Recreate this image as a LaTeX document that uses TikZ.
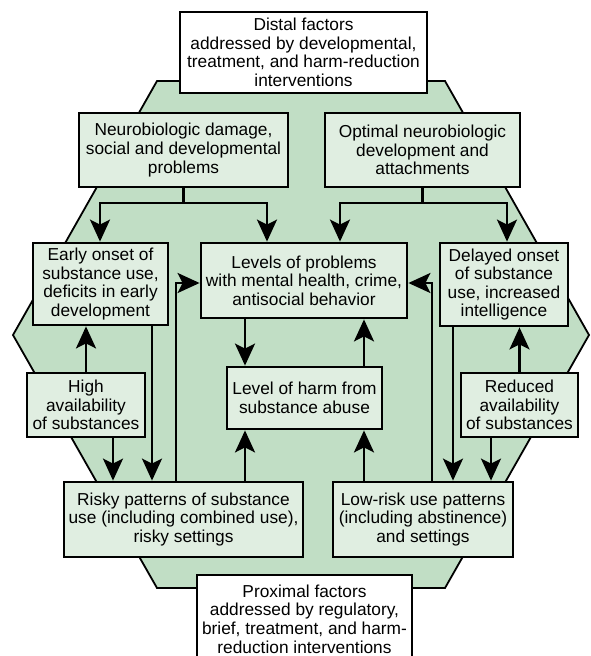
\documentclass[tikz,border=0pt]{standalone}
\usepackage{fontspec}
\setmainfont{Liberation Sans}
\usetikzlibrary{arrows.meta}
\definecolor{hexgreen}{HTML}{C1DEC5}
\definecolor{boxgreen}{HTML}{E0EEE1}
\tikzset{
  box/.style={draw=black, line width=2.8pt, fill=boxgreen, align=center, inner sep=0pt,
    font=\fontsize{17.3}{18.6}\selectfont},
  wbox/.style={box, fill=white},
  arr/.style={line width=2.5pt, -{Stealth[length=22pt, width=20pt, inset=5pt]}},
  ln/.style={line width=2.5pt},
}
\begin{document}
\begin{tikzpicture}[x=1pt, y=-1pt]
\useasboundingbox (0,0) rectangle (591,656);
% hexagon
\draw[fill=hexgreen, line width=1.8pt] (157,81) -- (445,81) -- (589,335) -- (445,588) -- (157,588) -- (13,335) -- cycle;

% nodes
\node[wbox, minimum width=247pt, minimum height=81pt] (distal) at (303.5,52.5)
  {Distal factors\\addressed by developmental,\\treatment, and harm-reduction\\interventions};
\node[box, minimum width=209pt, minimum height=74pt] (neuro) at (183.5,150)
  {Neurobiologic damage,\\social and developmental\\problems};
\node[box, minimum width=195pt, minimum height=74pt] (optimal) at (422.5,150)
  {Optimal neurobiologic\\development and\\attachments};
\node[box, minimum width=135pt, minimum height=82pt] (early) at (100.5,284)
  {Early onset of\\substance use,\\deficits in early\\development};
\node[box, minimum width=206pt, minimum height=75pt] (levels) at (304,280.5)
  {Levels of problems\\with mental health, crime,\\antisocial behavior};
\node[box, minimum width=128pt, minimum height=83pt] (delayed) at (504,284.5)
  {Delayed onset\\of substance\\use, increased\\intelligence};
\node[box, minimum width=118pt, minimum height=64pt] (high) at (86,405)
  {High\\availability\\of substances};
\node[box, minimum width=155pt, minimum height=62pt] (harm) at (304.5,398)
  {Level of harm from\\substance abuse};
\node[box, minimum width=117pt, minimum height=64pt] (reduced) at (519.5,405)
  {Reduced\\availability\\of substances};
\node[box, minimum width=239pt, minimum height=75pt] (risky) at (183.5,519.5)
  {Risky patterns of substance\\use (including combined use),\\risky settings};
\node[box, minimum width=180pt, minimum height=75pt] (lowrisk) at (423,519.5)
  {Low-risk use patterns\\(including abstinence)\\and settings};
\node[wbox, minimum width=215pt, minimum height=88pt] (proximal) at (304.5,619)
  {Proximal factors\\addressed by regulatory,\\brief, treatment, and harm-\\reduction interventions};

% connectors from top boxes
\coordinate (jn) at (183.5,203);
\draw[ln] (neuro.south) -- (jn);
\draw[arr] (jn) -| ([xshift=-0.5pt]early.north);
\draw[arr] (jn) -| ([xshift=-37pt]levels.north);
\coordinate (jo) at (422.5,203);
\draw[ln] (optimal.south) -- (jo);
\draw[arr] (jo) -| ([xshift=36pt]levels.north);
\draw[arr] (jo) -| ([xshift=3pt]delayed.north);

% left column
\draw[arr] ([xshift=51.5pt]early.south) coordinate (e1) -- (e1 |- risky.north);
\draw[arr] (high.north) -- (high.north |- early.south);
\draw[arr] ([xshift=27pt]high.south) coordinate (h1) -- (h1 |- risky.north);
\draw[arr] ([xshift=-7.5pt]risky.north) |- ([yshift=-2.5pt]levels.west);

% middle column
\draw[arr] ([xshift=-59pt]levels.south) coordinate (l1) -- (l1 |- harm.north);
\draw[arr] ([xshift=61.5pt]risky.north) coordinate (r1) -- (r1 |- harm.south);
\draw[arr] ([xshift=-59pt]lowrisk.north) coordinate (w1) -- (w1 |- harm.south);
\draw[arr] ([xshift=59.5pt]harm.north) coordinate (m1) -- (m1 |- levels.south);

% right column
\draw[arr] ([xshift=9pt]lowrisk.north) |- ([yshift=-2.5pt]levels.east);
\draw[arr] ([xshift=-51pt]delayed.south) coordinate (d1) -- (d1 |- lowrisk.north);
\draw[arr] (reduced.north) -- (reduced.north |- delayed.south);
\draw[arr] ([xshift=-28.5pt]reduced.south) coordinate (q1) -- (q1 |- lowrisk.north);
\end{tikzpicture}
\end{document}
